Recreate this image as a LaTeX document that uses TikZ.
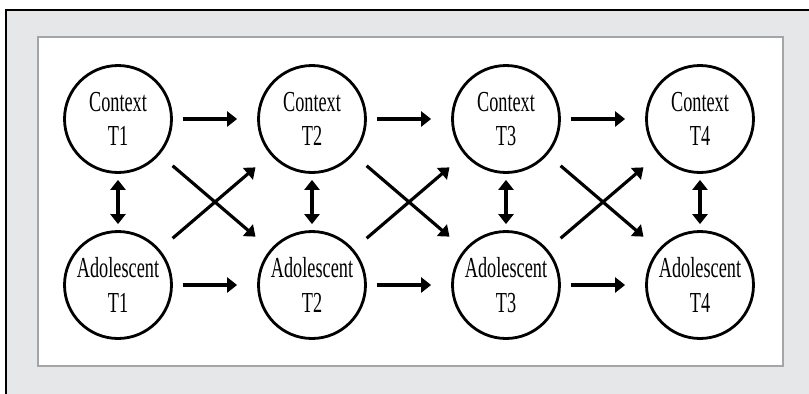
\documentclass[tikz,border=0pt]{standalone}
\usepackage{fontspec}
\newfontfamily\lblfont[FakeStretch=0.63]{Liberation Serif}
\usetikzlibrary{arrows.meta}

\definecolor{framegray}{HTML}{E6E7E8}
\definecolor{boxgray}{HTML}{A3A5A8}

\begin{document}
\begin{tikzpicture}[x=0.02cm,y=-0.02cm]

\tikzstyle{var} = [circle, draw=black, fill=white, line width=1.6pt, minimum size=2.14cm, inner sep=0, align=center, font=\lblfont\fontsize{16.5}{19.5}\selectfont, text=black]
\tikzstyle{path} = [-{Triangle[length=0.2cm,width=0.3cm]}, line width=1.8pt, shorten <=0.2cm, shorten >=0.4cm]
\tikzstyle{cross} = [path, shorten <=0.34cm, shorten >=0.39cm]
\tikzstyle{recip} = [{Triangle[length=0.2cm,width=0.3cm]}-{Triangle[length=0.2cm,width=0.3cm]}, line width=1.8pt, shorten <=0.12cm, shorten >=0.12cm]

\clip (0,0) rectangle (809,393);
\draw[line width=1.7pt, fill=framegray] (6,10) rectangle (840,430);
\draw[line width=1.5pt, draw=boxgray, fill=white] (38,37) rectangle (783,366);

\node[var] (ctx1) at (118,119) {Context\\T1};
\node[var] (ctx2) at (312,119) {Context\\T2};
\node[var] (ctx3) at (506,119) {Context\\T3};
\node[var] (ctx4) at (700,119) {Context\\T4};
\node[var] (ado1) at (118,285) {Adolescent\\T1};
\node[var] (ado2) at (312,285) {Adolescent\\T2};
\node[var] (ado3) at (506,285) {Adolescent\\T3};
\node[var] (ado4) at (700,285) {Adolescent\\T4};

% stability paths
\draw[path] (ctx1) -- (ctx2);
\draw[path] (ctx2) -- (ctx3);
\draw[path] (ctx3) -- (ctx4);
\draw[path] (ado1) -- (ado2);
\draw[path] (ado2) -- (ado3);
\draw[path] (ado3) -- (ado4);

% cross-lagged paths
\draw[cross] (ctx1) -- (ado2);
\draw[cross] (ado1) -- (ctx2);
\draw[cross] (ctx2) -- (ado3);
\draw[cross] (ado2) -- (ctx3);
\draw[cross] (ctx3) -- (ado4);
\draw[cross] (ado3) -- (ctx4);

% concurrent links
\draw[recip] (ctx1) -- (ado1);
\draw[recip] (ctx2) -- (ado2);
\draw[recip] (ctx3) -- (ado3);
\draw[recip] (ctx4) -- (ado4);

\end{tikzpicture}
\end{document}
